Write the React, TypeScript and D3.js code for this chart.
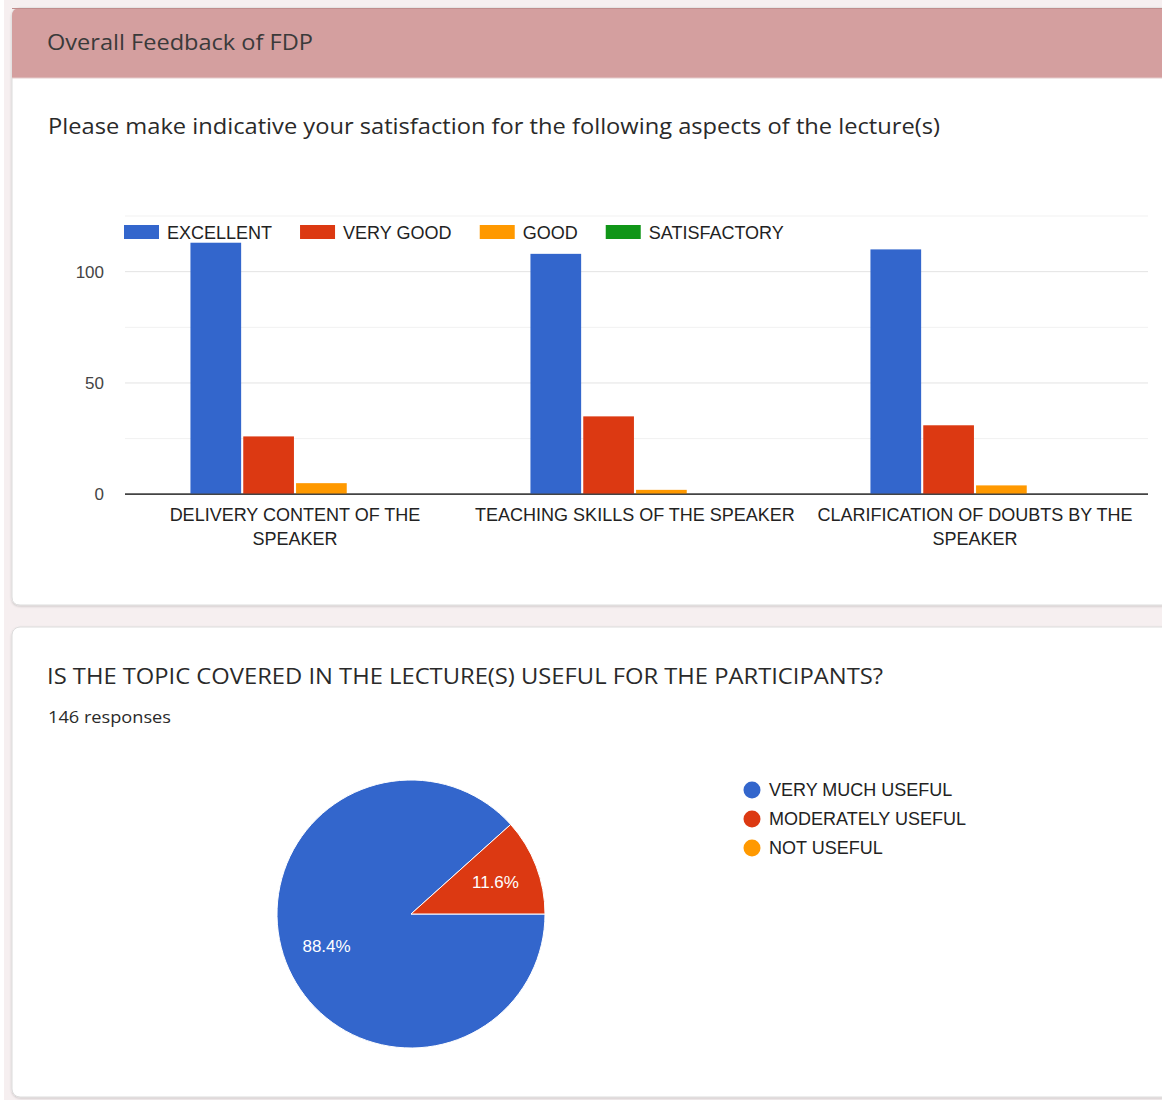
import React from 'react';
import * as d3 from 'd3';

// ---------- data ----------
const categories = [
  'DELIVERY CONTENT OF THE SPEAKER',
  'TEACHING SKILLS OF THE SPEAKER',
  'CLARIFICATION OF DOUBTS BY THE SPEAKER',
];
const categoryLines = [
  ['DELIVERY CONTENT OF THE', 'SPEAKER'],
  ['TEACHING SKILLS OF THE SPEAKER'],
  ['CLARIFICATION OF DOUBTS BY THE', 'SPEAKER'],
];
const seriesNames = ['EXCELLENT', 'VERY GOOD', 'GOOD', 'SATISFACTORY'];
const excellent = [113, 108, 110];
const veryGood = [26, 35, 31];
const good = [5, 2, 4];
const satisfactory = [0, 0, 0];
const yTickLabels = [0, 50, 100];
const yGridValues = [0, 25, 50, 75, 100, 125];

const pieLabels = ['VERY MUCH USEFUL', 'MODERATELY USEFUL', 'NOT USEFUL'];
const pieCounts = [129, 17, 0];

const headerTitle = 'Overall Feedback of FDP';
const question1 = 'Please make indicative your satisfaction for the following aspects of the lecture(s)';
const question2 = 'IS THE TOPIC COVERED IN THE LECTURE(S) USEFUL FOR THE PARTICIPANTS?';
const responsesText = '146 responses';

const palette = ['#3366cc', '#dc3912', '#ff9900', '#109618'];

// ---------- helpers ----------
let ctx: CanvasRenderingContext2D | null = null;
function measure(text: string, font: string): number {
  if (!ctx) ctx = document.createElement('canvas').getContext('2d');
  if (!ctx) return text.length * 9;
  ctx.font = font;
  return ctx.measureText(text).width;
}

const CHART_FONT = '"Liberation Sans", Arial, sans-serif';
const TITLE_FONT = '"Open Sans", "Noto Sans", sans-serif';

export default function App() {
  const W = 1162;
  const H = 1100;

  const seriesValues = [excellent, veryGood, good, satisfactory];

  // bar chart scales
  const x0 = d3.scaleBand<string>().domain(categories).range([125, 1145]).paddingInner(0.385).paddingOuter(0.1925);
  const x1 = d3.scaleBand<string>().domain(seriesNames).range([0, x0.bandwidth()]).paddingInner(0.04);
  const y = d3.scaleLinear().domain([0, 125]).range([494.3, 216]);

  // legend layout
  const legendFont = `18px ${CHART_FONT}`;
  let lx = 124;
  const legendItems = seriesNames.map((name, i) => {
    const item = { name, x: lx, color: palette[i] };
    lx += 35 + 8 + measure(name, legendFont) + 28;
    return item;
  });

  // pie
  const pieGen = d3.pie<number>().sort(null).startAngle(Math.PI / 2).endAngle(Math.PI / 2 + 2 * Math.PI);
  const arcs = pieGen(pieCounts);
  const R = 134;
  const arcGen = d3.arc<d3.PieArcDatum<number>>().innerRadius(0).outerRadius(R);
  const labelArc = d3.arc<d3.PieArcDatum<number>>().innerRadius(R * 0.675).outerRadius(R * 0.675);
  const total = d3.sum(pieCounts);
  const cx = 411;
  const cy = 914;

  return (
    <svg
      width={W}
      height={H}
      style={{ position: 'absolute', left: 0, top: 0, display: 'block' }}
      xmlns="http://www.w3.org/2000/svg"
    >
      <defs>
        <filter id="sh" x="-5%" y="-5%" width="110%" height="110%">
          <feDropShadow dx="0" dy="1" stdDeviation="1.2" floodColor="#000" floodOpacity="0.18" />
        </filter>
      </defs>
      {/* page background */}
      <rect x={0} y={0} width={W} height={H} fill="#f6eff0" />
      <rect x={0} y={0} width={4} height={H} fill="#ffffff" />

      {/* card 1 */}
      <path
        d={`M12,16 Q12,8 20,8 L1170,8 L1170,597 Q1170,605 1162,605 L20,605 Q12,605 12,597 Z`}
        fill="#ffffff"
        stroke="#dcdcdc"
        strokeWidth={1}
        filter="url(#sh)"
      />
      <path d={`M12,16 Q12,8 20,8 L1170,8 L1170,78 L12,78 Z`} fill="#d49f9f" />
      <line x1={12} x2={1170} y1={8.5} y2={8.5} stroke="#c08c8c" strokeWidth={1} />
      <line x1={12} x2={1170} y1={78} y2={78} stroke="#e6cccc" strokeWidth={1} />
      <text
        x={47}
        y={50}
        fontFamily={TITLE_FONT}
        fontSize={21}
        fill="#3a3a3a"
        textLength={266}
        lengthAdjust="spacingAndGlyphs"
      >
        {headerTitle}
      </text>
      <text
        x={48}
        y={134}
        fontFamily={TITLE_FONT}
        fontSize={21}
        fill="#2a2a2a"
        textLength={892}
        lengthAdjust="spacingAndGlyphs"
      >
        {question1}
      </text>

      {/* bar chart gridlines */}
      {yGridValues.map((v) => (
        <line
          key={`g${v}`}
          x1={125}
          x2={1148}
          y1={y(v)}
          y2={y(v)}
          stroke={v === 0 ? '#444' : v % 50 === 0 ? '#e3e3e3' : '#f1f1f1'}
          strokeWidth={v === 0 ? 1.4 : 1}
        />
      ))}
      {yTickLabels.map((v) => (
        <text
          key={`t${v}`}
          x={104}
          y={y(v) + 6}
          textAnchor="end"
          fontFamily={CHART_FONT}
          fontSize={17}
          fill="#444"
        >
          {v}
        </text>
      ))}

      {/* bars */}
      {categories.map((c, ci) => (
        <g key={c} transform={`translate(${x0(c)},0)`}>
          {seriesNames.map((s, si) => {
            const v = seriesValues[si][ci];
            if (v <= 0) return null;
            return (
              <rect
                key={s}
                x={x1(s)}
                y={y(v)}
                width={x1.bandwidth()}
                height={y(0) - y(v)}
                fill={palette[si]}
              />
            );
          })}
        </g>
      ))}
      {/* redraw baseline over bars */}
      <line x1={125} x2={1148} y1={y(0)} y2={y(0)} stroke="#444" strokeWidth={1.4} />

      {/* x labels */}
      {categories.map((c, ci) => (
        <text
          key={`xl${c}`}
          x={(x0(c) || 0) + x0.bandwidth() / 2}
          y={521}
          textAnchor="middle"
          fontFamily={CHART_FONT}
          fontSize={18}
          fill="#222"
        >
          {categoryLines[ci].map((line, li) => (
            <tspan key={li} x={(x0(c) || 0) + x0.bandwidth() / 2} dy={li === 0 ? 0 : 24}>
              {line}
            </tspan>
          ))}
        </text>
      ))}

      {/* legend */}
      {legendItems.map((it) => (
        <g key={it.name}>
          <rect x={it.x} y={225} width={35} height={14} fill={it.color} />
          <text x={it.x + 43} y={239} fontFamily={CHART_FONT} fontSize={18} fill="#222">
            {it.name}
          </text>
        </g>
      ))}

      {/* card 2 */}
      <rect
        x={12}
        y={627}
        width={1158}
        height={470}
        rx={8}
        ry={8}
        fill="#ffffff"
        stroke="#dcdcdc"
        strokeWidth={1}
        filter="url(#sh)"
      />
      <text
        x={47}
        y={684}
        fontFamily={TITLE_FONT}
        fontSize={22}
        fill="#2a2a2a"
        textLength={836}
        lengthAdjust="spacingAndGlyphs"
      >
        {question2}
      </text>
      <text
        x={48}
        y={723}
        fontFamily={TITLE_FONT}
        fontSize={16}
        fill="#2a2a2a"
        textLength={123}
        lengthAdjust="spacingAndGlyphs"
      >
        {responsesText}
      </text>

      {/* pie */}
      <g transform={`translate(${cx},${cy})`}>
        {arcs.map((a, i) =>
          a.value > 0 ? (
            <path key={`p${i}`} d={arcGen(a) || ''} fill={palette[i]} stroke="#ffffff" strokeWidth={1} />
          ) : null
        )}
        {arcs.map((a, i) => {
          if (a.value <= 0) return null;
          const [lx2, ly2] = labelArc.centroid(a);
          return (
            <text
              key={`pl${i}`}
              x={lx2}
              y={ly2 + 6}
              textAnchor="middle"
              fontFamily={CHART_FONT}
              fontSize={17}
              fill="#ffffff"
            >
              {`${((a.value / total) * 100).toFixed(1)}%`}
            </text>
          );
        })}
      </g>

      {/* pie legend */}
      {pieLabels.map((l, i) => (
        <g key={l}>
          <circle cx={752} cy={790 + i * 29} r={8.5} fill={palette[i]} />
          <text x={769} y={796 + i * 29} fontFamily={CHART_FONT} fontSize={18} fill="#222">
            {l}
          </text>
        </g>
      ))}
    </svg>
  );
}
